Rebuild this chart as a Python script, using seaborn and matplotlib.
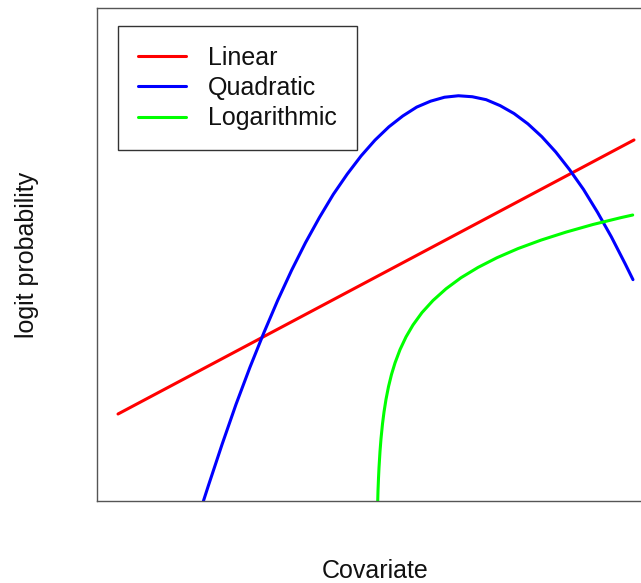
import matplotlib
matplotlib.use("Agg")
import matplotlib.pyplot as plt
import seaborn as sns
import pandas as pd

# ---- data (arbitrary covariate / logit units) ----
series_names = ["Linear", "Quadratic", "Logarithmic"]
series_colors = ["#FF0000", "#0000FF", "#00FF00"]

linear_x = [0.378, 5.0, 9.658]
linear_y = [1.765, 4.533, 7.323]

quad_x = [1.914, 2.00, 2.25, 2.50, 2.75, 3.00, 3.25, 3.50, 3.75, 4.00, 4.25,
          4.50, 4.75, 5.00, 5.25, 5.50, 5.75, 6.00, 6.25, 6.50, 6.75, 7.00,
          7.25, 7.50, 7.75, 8.00, 8.25, 8.50, 8.75, 9.00, 9.25, 9.50, 9.64]
quad_y = [0.00, 0.30, 1.15, 1.96, 2.71, 3.41, 4.07, 4.68, 5.24, 5.75, 6.22,
          6.63, 7.00, 7.32, 7.59, 7.81, 7.99, 8.11, 8.19, 8.22, 8.20, 8.14,
          8.02, 7.86, 7.65, 7.39, 7.08, 6.72, 6.32, 5.86, 5.36, 4.81, 4.49]

log_x = [5.049, 5.054, 5.063, 5.072, 5.090, 5.108, 5.135, 5.162, 5.198,
         5.243, 5.297, 5.360, 5.450, 5.558, 5.683, 5.845, 6.043, 6.277,
         6.547, 6.853, 7.194, 7.572, 7.986, 8.435, 8.921, 9.424, 9.635]
log_y = [0.000, 0.209, 0.464, 0.675, 1.006, 1.264, 1.566, 1.805, 2.063,
         2.320, 2.568, 2.801, 3.071, 3.329, 3.570, 3.822, 4.067, 4.304,
         4.529, 4.738, 4.935, 5.120, 5.292, 5.454, 5.609, 5.748, 5.801]

x_label = "Covariate"
y_label = "logit probability"

# ---- build long table ----
frames = []
for name, xs, ys in zip(series_names,
                        [linear_x, quad_x, log_x],
                        [linear_y, quad_y, log_y]):
    frames.append(pd.DataFrame({"x": xs, "y": ys, "model": name}))
df = pd.concat(frames, ignore_index=True)

sns.set_style("white")
plt.rcParams["font.family"] = ["Liberation Sans", "DejaVu Sans"]

fig = plt.figure(figsize=(6.41, 5.83), dpi=100)
ax = fig.add_axes([97 / 641, 82 / 583, 556 / 641, 493 / 583])

sns.lineplot(data=df, x="x", y="y", hue="model", hue_order=series_names,
             palette=dict(zip(series_names, series_colors)),
             estimator=None, sort=False, linewidth=2.2, ax=ax)

ax.set_xlim(0, 10)
ax.set_ylim(0, 10)
ax.set_xticks([])
ax.set_yticks([])
ax.set_xlabel("")
ax.set_ylabel("")
for sp in ax.spines.values():
    sp.set_color("#555555")
    sp.set_linewidth(1.0)

handles, labels = ax.get_legend_handles_labels()
leg = ax.legend(handles, labels, loc="upper left",
                bbox_to_anchor=(0.0372, 0.9635), borderaxespad=0,
                fontsize=18, handlelength=1.92, handletextpad=0.88,
                borderpad=0.8, labelspacing=0.25, fancybox=False,
                framealpha=1, edgecolor="#333333")
leg.get_frame().set_linewidth(1.0)
for t in leg.get_texts():
    t.set_color("#111111")

fig.text(374.9 / 641, (583 - 578) / 583, x_label, ha="center",
         va="baseline", fontsize=18, color="#111111")
fig.text(27 / 641, (583 - 255) / 583, y_label, ha="center", va="center",
         rotation=90, fontsize=18, color="#111111")

fig.savefig("out.png", dpi=100)
